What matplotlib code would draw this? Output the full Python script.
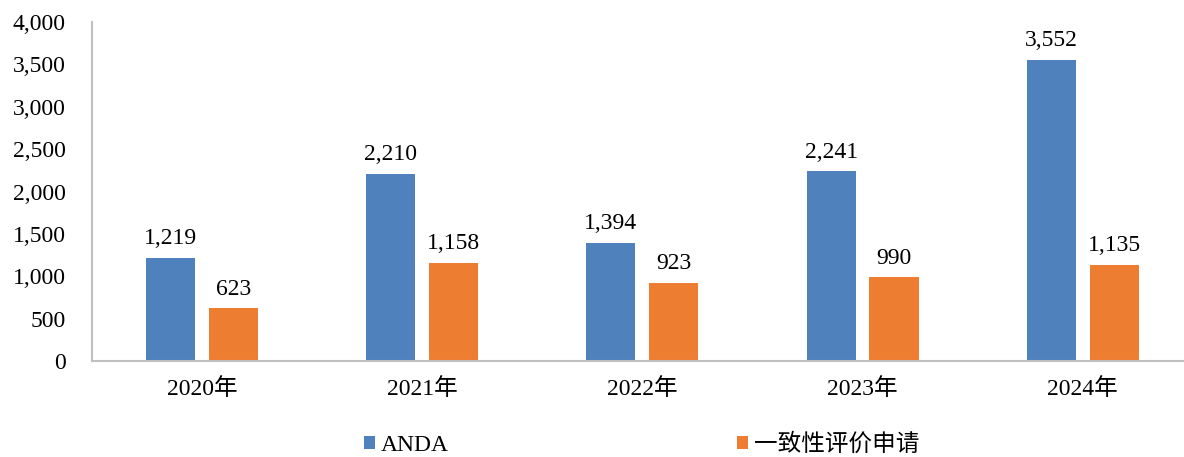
import numpy as np
import matplotlib.pyplot as plt
from matplotlib.patches import Patch
from matplotlib.ticker import FuncFormatter

# ===============================
# DATA
# ===============================
years = ["2020年", "2021年", "2022年", "2023年", "2024年"]
anda = [1219, 2210, 1394, 2241, 3552]
consistency = [623, 1158, 923, 990, 1135]
series_names = ["ANDA", "一致性评价申请"]

# ===============================
# STYLE
# ===============================
plt.rcParams['font.family'] = ['Liberation Serif', 'Noto Sans CJK SC', 'DejaVu Sans']
BLUE = "#4f81bd"
ORANGE = "#ed7d31"
GRAY = "#bfbfbf"
FS = 17

fig = plt.figure(figsize=(11.84, 4.57), dpi=100)
ax = fig.add_axes([92 / 1184, 1 - 361 / 457, 1 - 92 / 1184, (361 - 22) / 457])

x = np.arange(len(years))
w = 0.223
off = 0.143

b1 = ax.bar(x - off, anda, w, color=BLUE, label=series_names[0])
b2 = ax.bar(x + off, consistency, w, color=ORANGE, label=series_names[1])

for bars in (b1, b2):
    for r in bars:
        ax.text(r.get_x() + r.get_width() / 2, r.get_height() + 100,
                f"{int(r.get_height()):,}", ha="center", va="bottom", fontsize=FS)

ax.set_xlim(-0.5, 4.46)
ax.set_ylim(0, 4000)
ax.set_yticks(range(0, 4001, 500))
ax.yaxis.set_major_formatter(FuncFormatter(lambda v, p: f"{int(v):,}"))
ax.set_xticks(x)
ax.set_xticklabels(years)
ax.tick_params(axis="both", length=0, labelsize=FS)
ax.tick_params(axis="y", pad=19)
ax.tick_params(axis="x", pad=12)

for s in ("top", "right"):
    ax.spines[s].set_visible(False)
for s in ("left", "bottom"):
    ax.spines[s].set_color(GRAY)
    ax.spines[s].set_linewidth(1.5)

handles = [Patch(facecolor=BLUE, label=series_names[0]),
           Patch(facecolor=ORANGE, label=series_names[1])]
fig.legend(handles=handles, loc="center", bbox_to_anchor=(0.542, 1 - 445 / 457),
           ncol=2, frameon=False, fontsize=FS, handlelength=0.45, handleheight=0.45,
           handletextpad=0.25, columnspacing=12.2)

fig.savefig("out.png", dpi=100)
